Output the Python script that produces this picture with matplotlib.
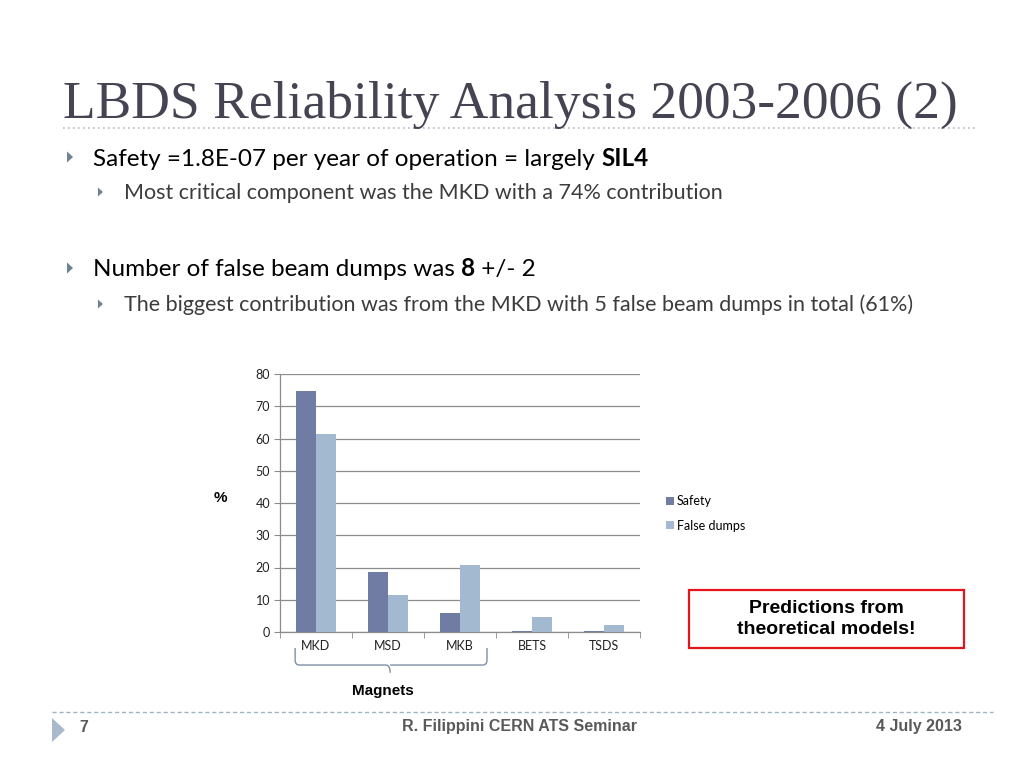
"""
Recreate the LBDS reliability slide: bar chart of Safety vs False dumps
contributions per LBDS subsystem, with the slide text around it.
"""

import matplotlib

matplotlib.use("Agg")
import matplotlib.pyplot as plt  # noqa: E402
import matplotlib.patches as mpatches  # noqa: E402
from matplotlib.path import Path  # noqa: E402
from matplotlib.lines import Line2D  # noqa: E402
from matplotlib.transforms import blended_transform_factory  # noqa: E402
import numpy as np  # noqa: E402

categories = ["MKD", "MSD", "MKB", "BETS", "TSDS"]
safety = [74.8, 18.7, 6.0, 0.4, 0.4]
false_dumps = [61.5, 11.4, 20.8, 4.8, 2.3]
y_ticks = [0, 10, 20, 30, 40, 50, 60, 70, 80]

SAFETY_COLOR = "#717ca4"
FALSE_COLOR = "#a3b9cf"
BODY_FONT = "Lato"
W, H = 1024, 768


def fx(px):
    return px / W


def fy(py):
    return 1 - py / H


fig = plt.figure(figsize=(10.24, 7.68), dpi=100)
fig.patch.set_facecolor("white")
renderer = fig.canvas.get_renderer()

# ---- title ----
fig.text(fx(63), fy(118), "LBDS Reliability Analysis 2003-2006 (2)",
         family="Liberation Serif", fontsize=38.5, color="#444452", va="baseline")
fig.add_artist(Line2D([fx(63), fx(975)], [fy(128), fy(128)], transform=fig.transFigure,
                      color="#b4bcc8", linestyle=(0, (1, 2)), linewidth=1.2))


def bullet(x, y, size):
    tri = mpatches.Polygon([[fx(x), fy(y - size)], [fx(x), fy(y + size)], [fx(x + size * 1.1), fy(y)]],
                           closed=True, transform=fig.transFigure, color="#6f8197", linewidth=0)
    fig.add_artist(tri)


def mixed_line(x, y, parts, fontsize, color):
    """Draw a line of text made of (string, bold) parts, one after another."""
    cur = fx(x)
    for txt, bold in parts:
        t = fig.text(cur, fy(y), txt, family=BODY_FONT, fontsize=fontsize, color=color,
                     fontweight="bold" if bold else "normal", va="baseline")
        bb = t.get_window_extent(renderer=renderer)
        cur += bb.width / W


bullet(67, 157, 5.5)
mixed_line(93, 166, [("Safety =1.8E-07 per year of operation = largely ", False), ("SIL4", True)],
           17.5, "black")
bullet(98, 192, 4.5)
mixed_line(124, 199, [("Most critical component was the MKD with a 74% contribution", False)],
           15.5, "#3c3c3c")
bullet(67, 268, 5.5)
mixed_line(93, 276, [("Number of false beam dumps was ", False), ("8", True), (" +/- 2", False)],
           17.5, "black")
bullet(98, 304, 4.5)
mixed_line(124, 311, [("The biggest contribution was from the MKD with 5 false beam dumps in total (61%)", False)],
           15.5, "#3c3c3c")

# ---- chart ----
ax = fig.add_axes([fx(280), fy(632), fx(640) - fx(280), fy(374) - fy(632)])
x = np.arange(len(categories))
bar_w = 0.28
ax.bar(x - bar_w / 2, safety, bar_w, color=SAFETY_COLOR, label="Safety", zorder=3)
ax.bar(x + bar_w / 2, false_dumps, bar_w, color=FALSE_COLOR, label="False dumps", zorder=3)

ax.set_xlim(-0.5, len(categories) - 0.5)
ax.set_ylim(0, 80)
ax.set_yticks(y_ticks)
ax.set_yticklabels([str(v) for v in y_ticks], family=BODY_FONT, fontsize=9, color="#222222")
ax.set_xticks(x)
ax.set_xticklabels(categories, family=BODY_FONT, fontsize=9, color="#222222")
ax.set_xticks(np.arange(-0.5, len(categories)), minor=True)
ax.tick_params(axis="x", which="major", length=0, pad=6)
ax.tick_params(axis="x", which="minor", length=4, color="#8c8c8c", direction="out")
ax.tick_params(axis="y", length=4, color="#8c8c8c", direction="out", pad=3)
ax.grid(True, axis="y", color="#8c8c8c", linewidth=0.9, zorder=0)
for side in ["top", "right"]:
    ax.spines[side].set_visible(False)
for side in ["left", "bottom"]:
    ax.spines[side].set_color("#8c8c8c")
    ax.spines[side].set_linewidth(0.9)
ax.set_ylabel("%", rotation=0, family="Liberation Sans", fontweight="bold", fontsize=11,
              labelpad=40, va="center")
ax.yaxis.set_label_coords(-0.165, 0.52)

ax.legend(loc="upper left", bbox_to_anchor=(fx(655), fy(484)), bbox_transform=fig.transFigure,
          frameon=False, handlelength=0.6, handleheight=0.6, handletextpad=0.25,
          labelspacing=1.0, prop={"family": BODY_FONT, "size": 9})

# brace under the magnet group
bt = blended_transform_factory(ax.transData, ax.transAxes)
left, right, mid = x[0] - 0.29, x[2] + 0.375, x[1] + 0.03
y_top, y_bar, y_tip = -0.062, -0.128, -0.158
r = 0.06
verts = [
    (left, y_top), (left, y_bar + 0.02), (left, y_bar), (left + r, y_bar),
    (mid - r, y_bar), (mid, y_bar), (mid, y_tip),
    (mid, y_bar), (mid + r, y_bar),
    (right - r, y_bar), (right, y_bar), (right, y_bar + 0.02), (right, y_top),
]
codes = [Path.MOVETO, Path.LINETO, Path.CURVE3, Path.CURVE3,
         Path.LINETO, Path.CURVE3, Path.CURVE3,
         Path.MOVETO, Path.CURVE3,
         Path.LINETO, Path.CURVE3, Path.CURVE3, Path.LINETO]
brace = mpatches.PathPatch(Path(verts, codes), transform=bt, fill=False,
                           edgecolor="#7f8fa6", linewidth=1.0, clip_on=False)
ax.add_patch(brace)
ax.text(mid - 0.1, -0.23, "Magnets", transform=bt, ha="center", va="center",
        family="Liberation Sans", fontweight="bold", fontsize=11)

# ---- red annotation box ----
box = mpatches.Rectangle((fx(689), fy(648)), fx(964) - fx(689), fy(590) - fy(648),
                         transform=fig.transFigure, fill=False, edgecolor="#e3151b", linewidth=1.6)
fig.add_artist(box)
fig.text(fx(826), fy(619), "Predictions from\ntheoretical models!", ha="center", va="center",
         family="Liberation Sans", fontweight="bold", fontsize=14, linespacing=1.25)

# ---- footer ----
fig.add_artist(Line2D([fx(52), fx(993)], [fy(712), fy(712)], transform=fig.transFigure,
                      color="#9db3c6", linestyle=(0, (3, 2)), linewidth=1.0))
fig.add_artist(mpatches.Polygon([[fx(52), fy(718)], [fx(52), fy(742)], [fx(65), fy(730)]],
                                closed=True, transform=fig.transFigure, color="#a7b9cb", linewidth=0))
footer_kw = dict(family="Liberation Sans", fontweight="bold", fontsize=11.5, color="#595959", va="center")
fig.text(fx(79), fy(727), "7", ha="left", **footer_kw)
fig.text(fx(520), fy(727), "R. Filippini CERN ATS Seminar", ha="center", **footer_kw)
fig.text(fx(962), fy(727), "4 July 2013", ha="right", **footer_kw)

fig.savefig("out.png", dpi=100)
